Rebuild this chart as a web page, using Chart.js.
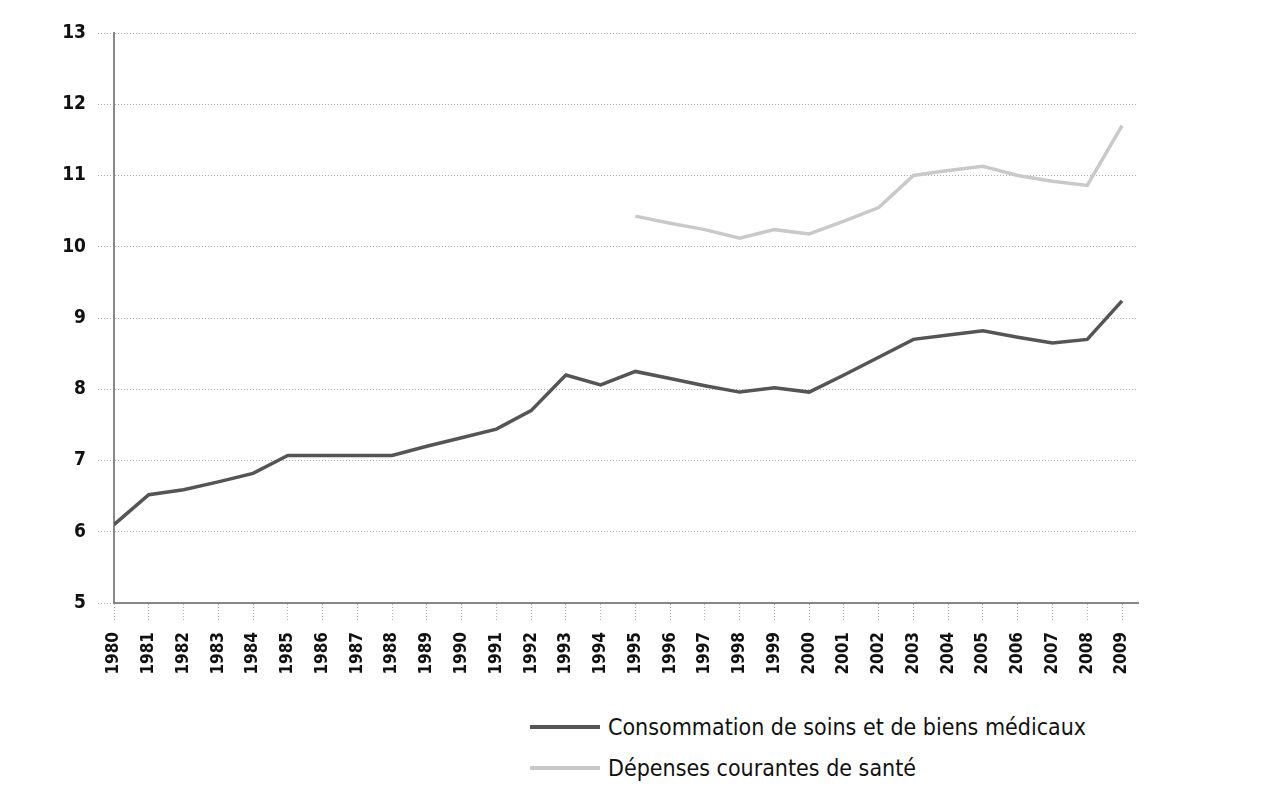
<!DOCTYPE html>
<html>
<head>
<meta charset="utf-8">
<script src="https://cdn.jsdelivr.net/npm/chart.js@4.4.1/dist/chart.umd.min.js"></script>
<style>
  body { margin: 0; background: #fff; width: 1278px; height: 803px; overflow: hidden; position: relative;
         font-family: "DejaVu Sans Condensed", "DejaVu Sans", sans-serif; }
  #wrap { position: absolute; left: 0; top: 0; width: 1278px; height: 690px; }
  #legend { position: absolute; left: 530px; top: 706px; }
  .item { display: flex; align-items: center; height: 41px; }
  .swatch { width: 70px; height: 4px; margin-right: 8px; }
  .item span { font-size: 23px; color: #111; }
</style>
</head>
<body>
<div id="wrap"><canvas id="chart"></canvas></div>
<div id="legend"></div>
<script>
const years = [1980, 1981, 1982, 1983, 1984, 1985, 1986, 1987, 1988, 1989,
               1990, 1991, 1992, 1993, 1994, 1995, 1996, 1997, 1998, 1999,
               2000, 2001, 2002, 2003, 2004, 2005, 2006, 2007, 2008, 2009];

// Consommation de soins et de biens médicaux (% du PIB)
const consommation = [6.1, 6.52, 6.59, 6.7, 6.82, 7.07, 7.07, 7.07, 7.07, 7.2,
                      7.32, 7.44, 7.7, 8.2, 8.06, 8.25, 8.15, 8.05, 7.96, 8.02,
                      7.96, 8.2, 8.45, 8.7, 8.76, 8.82, 8.73, 8.65, 8.7, 9.24];

// Dépenses courantes de santé (% du PIB), à partir de 1995
const depenses = [null, null, null, null, null, null, null, null, null, null,
                  null, null, null, null, null, 10.43, 10.33, 10.24, 10.12, 10.24,
                  10.18, 10.36, 10.55, 11.0, 11.07, 11.13, 11.0, 10.92, 10.86, 11.7];

const yTicks = [5, 6, 7, 8, 9, 10, 11, 12, 13];

const seriesLabels = ["Consommation de soins et de biens médicaux", "Dépenses courantes de santé"];
const seriesColors = ["#555555", "#c9c9c9"];

const tickFont = "'DejaVu Sans Condensed', sans-serif";

const toPoints = (vals) => years.map((y, i) => ({ x: y, y: vals[i] }));

const chart = new Chart(document.getElementById("chart"), {
    type: "line",
    data: {
        datasets: [
            { label: seriesLabels[0], data: toPoints(consommation), borderColor: seriesColors[0],
              borderWidth: 3.5, pointRadius: 0, tension: 0 },
            { label: seriesLabels[1], data: toPoints(depenses), borderColor: seriesColors[1],
              borderWidth: 3.5, pointRadius: 0, tension: 0, spanGaps: false },
        ],
    },
    options: {
        responsive: true,
        maintainAspectRatio: false,
        animation: false,
        layout: { padding: { top: 33, right: 140, left: 0, bottom: 0 } },
        plugins: { legend: { display: false }, tooltip: { enabled: false } },
        scales: {
            x: {
                type: "linear",
                min: 1980,
                max: 2009.46,
                afterBuildTicks: (s) => { s.ticks = years.map(v => ({ value: v })); },
                afterFit: (s) => { s.height = 87; },
                ticks: {
                    autoSkip: false, minRotation: 90, maxRotation: 90, padding: 11,
                    color: "#111", font: { family: tickFont, weight: "bold", size: 17 },
                    callback: (v) => String(v),
                },
                grid: { drawOnChartArea: false, drawTicks: true, tickLength: 18,
                        tickColor: "#aaa", tickWidth: 1, tickBorderDash: [1, 2] },
                border: { color: "#888", width: 2 },
            },
            y: {
                min: 5,
                max: 13,
                afterBuildTicks: (s) => { s.ticks = yTicks.map(v => ({ value: v })); },
                afterFit: (s) => { s.width = 114; },
                ticks: {
                    padding: 12, color: "#111",
                    font: { family: tickFont, weight: "bold", size: 19 },
                },
                grid: { color: "#aaa", lineWidth: 1, tickLength: 16, tickColor: "#aaa",
                        tickWidth: 1, tickBorderDash: [1, 2] },
                border: { color: "#888", width: 2, dash: [1, 2] },
            },
        },
    },
});

// legend built from the datasets
const legend = document.getElementById("legend");
chart.data.datasets.forEach(ds => {
    const item = document.createElement("div");
    item.className = "item";
    const sw = document.createElement("div");
    sw.className = "swatch";
    sw.style.background = ds.borderColor;
    const txt = document.createElement("span");
    txt.textContent = ds.label;
    item.appendChild(sw);
    item.appendChild(txt);
    legend.appendChild(item);
});
</script>
</body>
</html>
